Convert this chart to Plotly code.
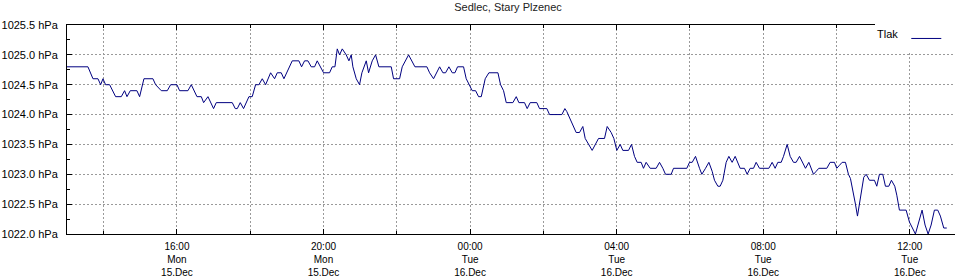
import pandas as pd
import plotly.graph_objects as go

# Station / series
title_text = "Sedlec, Stary Plzenec"
series_name = "Tlak"
start_time = "2025-12-15 13:00"

# minutes after 13:00 Mon 15.Dec
minutes = [
    0, 34.3, 42.5, 50.7, 55.1, 58.9, 63.2, 69.8, 79.6, 88.9, 94.3, 98.2, 103.6, 114.5,
    118.9, 126, 140.7, 145.1, 154.4, 164.2, 169.7, 180, 184.4, 198, 203.5, 212.8, 219.9,
    223.7, 230.8, 240, 244.4,
    270.6, 275.5, 278.8, 283.7, 289.1, 297.9, 303.3, 308.8, 314.2, 319.7, 325.2, 333.4,
    339.9, 344.3, 350.8, 355.2, 368.8, 379.7, 384.1, 389.0, 394.5, 399.9, 405.4, 409.7,
    420.1, 429.9, 434.3, 438.7, 442.5, 446.3, 450.7, 457.2, 461.6, 465.4, 468.1, 473.6,
    479.0, 482.9, 490.0,
    493.8, 496.5, 499.8, 505.3, 510.7, 530.9, 534.7, 544.6, 548.9, 559.3, 569.7, 589.3,
    593.7, 600.2, 610.1, 615.5, 619.9, 625.3, 630.8, 635.2, 639.5, 649.3, 653.7, 663.5,
    669.0, 673.9, 678.3, 684.8, 690.8, 705.6, 709.9, 714.8, 719.2, 730.1, 735.6,
    739.9, 749.1, 753.5, 758.4, 769.3, 773.7, 785.7, 790.1, 810.3, 815.2, 818.4, 825.5,
    833.7, 839.2, 844.6, 848.5, 859.9, 870.3, 880.1, 884.5, 891.0, 895.4, 900.3, 905.8,
    910.1, 919.4, 924.3, 929.2, 933.6, 940.1, 943.9, 948.3, 954.9, 964.7, 970.2, 975.6,
    980.0,
    989.3, 993.1, 1014.9, 1019.3, 1023.7, 1029.1, 1035.7, 1039.5, 1045.5, 1051.0, 1056.4,
    1060.2, 1065.7, 1069.5, 1073.9, 1079.3, 1083.7, 1089.1, 1094.1, 1102.2, 1109.3,
    1113.7, 1118.6, 1124.1, 1128.4, 1133.9, 1149.2, 1154.6, 1159.5, 1163.9, 1169.4,
    1173.2, 1179.2, 1184.1, 1189.6, 1193.9, 1199.4, 1204.8, 1209.2, 1214.7, 1222.3,
    1226.7,
    1231.0, 1244.1, 1249.5, 1256.6, 1260.4, 1264.8, 1269.2, 1274.6, 1279.5, 1282.8,
    1287.7, 1291.0, 1294.3, 1297.5, 1301.4, 1304.6, 1308.5, 1313.9, 1322.1, 1325.9,
    1330.3, 1335.7, 1340.1, 1345.6, 1349.9, 1355.4, 1358.7, 1363.0, 1374.0, 1379.4,
    1389.2, 1393.0, 1400.1, 1405.0, 1410.0, 1414.9, 1420.3, 1425.8, 1430.1, 1435.6,
    1440.5,
]

pressure_hpa = [
    1024.8, 1024.8, 1024.6, 1024.6, 1024.5, 1024.6, 1024.5, 1024.5, 1024.3, 1024.3, 1024.4,
    1024.3, 1024.4, 1024.4, 1024.3, 1024.6, 1024.6, 1024.5, 1024.4, 1024.4, 1024.5, 1024.5,
    1024.4, 1024.4, 1024.5, 1024.3, 1024.3, 1024.2, 1024.3, 1024.1, 1024.2,
    1024.2, 1024.1, 1024.1, 1024.2, 1024.1, 1024.3, 1024.3, 1024.5, 1024.5, 1024.6, 1024.5,
    1024.7, 1024.6, 1024.7, 1024.7, 1024.6, 1024.9, 1024.9, 1024.8, 1024.9, 1024.9, 1024.8,
    1024.8, 1024.9, 1024.7, 1024.7, 1024.8, 1024.8, 1025.1, 1025.0, 1025.1, 1025.0, 1024.9,
    1025.0, 1024.8, 1024.6, 1024.5, 1024.7, 1024.9,
    1024.7, 1024.8, 1024.9, 1025.0, 1024.8, 1024.8, 1024.6, 1024.6, 1024.8, 1025.0, 1024.8,
    1024.8, 1024.7, 1024.6, 1024.8, 1024.7, 1024.7, 1024.8, 1024.7, 1024.7, 1024.8, 1024.8,
    1024.6, 1024.4, 1024.4, 1024.3, 1024.3, 1024.6, 1024.7, 1024.7, 1024.5, 1024.4, 1024.2,
    1024.2, 1024.3,
    1024.2, 1024.2, 1024.1, 1024.2, 1024.2, 1024.1, 1024.1, 1024.0, 1024.0, 1024.1, 1024.05,
    1023.9, 1023.7, 1023.7, 1023.8, 1023.6, 1023.4, 1023.6, 1023.6, 1023.8, 1023.7, 1023.6,
    1023.4, 1023.5, 1023.4, 1023.4, 1023.5, 1023.3, 1023.2, 1023.2, 1023.1, 1023.2, 1023.1,
    1023.1, 1023.2, 1023.1, 1023.0,
    1023.0, 1023.1, 1023.1, 1023.2, 1023.2, 1023.3, 1023.1, 1023.0, 1023.1, 1023.2, 1023.05,
    1022.9, 1022.8, 1022.8, 1022.9, 1023.2, 1023.3, 1023.2, 1023.3, 1023.1, 1023.1, 1023.0,
    1023.1, 1023.1, 1023.2, 1023.1, 1023.1, 1023.2, 1023.1, 1023.2, 1023.2, 1023.3, 1023.5,
    1023.3, 1023.2, 1023.2, 1023.3, 1023.2, 1023.1, 1023.2, 1023.0, 1023.05,
    1023.1, 1023.1, 1023.2, 1023.2, 1023.1, 1023.15, 1023.2, 1023.2, 1023.0, 1022.93,
    1022.7, 1022.5, 1022.3, 1022.5, 1022.75, 1022.95, 1023.0, 1022.9, 1022.9, 1022.8,
    1023.0, 1023.0, 1022.8, 1022.8, 1022.9, 1022.8, 1022.65, 1022.4, 1022.4, 1022.2,
    1022.0, 1022.15, 1022.4, 1022.15, 1022.0, 1022.15, 1022.4, 1022.4, 1022.3, 1022.1,
    1022.1,
]

x_range = ["2025-12-15 13:00", "2025-12-16 13:14"]
y_range = [1022.0, 1025.5]

times = pd.Timestamp(start_time) + pd.to_timedelta(minutes, unit="min")

FONT = "Liberation Sans"

fig = go.Figure()
fig.add_trace(go.Scatter(
    x=times, y=pressure_hpa, mode="lines", name=" ",
    line=dict(color="#000080", width=1),
    showlegend=True,
))

fig.update_layout(
    width=956, height=277,
    margin=dict(l=67, r=1, t=25, b=43, autoexpand=False),
    paper_bgcolor="white", plot_bgcolor="white",
    font=dict(family=FONT, size=11, color="#000000"),
    title=dict(text=title_text, x=508 / 956, xanchor="center", xref="container",
               y=1 - 7 / 277, yanchor="middle", yref="container",
               font=dict(family=FONT, size=11, color="#222222")),
    legend=dict(x=1.0, xanchor="right", y=1.005, yanchor="top",
                bgcolor="white", borderwidth=0,
                title=dict(text=series_name, side="left", font=dict(size=11)),
                font=dict(size=11), itemwidth=30, tracegroupgap=0),
    showlegend=True,
)

fig.update_xaxes(
    type="date", range=x_range, automargin=False,
    tick0="2025-12-15 00:00", dtick=4 * 3600 * 1000,
    tickformat="%H:%M<br>%a<br>%d.%b",
    ticks="inside", ticklen=5, tickwidth=1, tickcolor="black",
    showline=True, linecolor="black", linewidth=1, mirror="ticks",
    showgrid=True, gridcolor="#9a9a9a", griddash="2px,2px", gridwidth=1,
    minor=dict(dtick=2 * 3600 * 1000, tick0="2025-12-15 00:00", ticks="inside",
               ticklen=3, tickcolor="black", showgrid=True, gridcolor="#9a9a9a",
               griddash="2px,2px"),
    zeroline=False, ticklabelstandoff=3,
    tickfont=dict(family=FONT, size=10),
)

fig.update_yaxes(
    range=y_range, dtick=0.5, tick0=1022.0, automargin=False,
    tickformat=".1f", ticksuffix=" hPa",
    ticks="inside", ticklen=5, tickwidth=1, tickcolor="black",
    showline=True, linecolor="black", linewidth=1,
    showgrid=True, gridcolor="#9a9a9a", griddash="2px,2px", gridwidth=1,
    minor=dict(dtick=0.25, ticks="inside", ticklen=3, tickcolor="black", showgrid=False),
    zeroline=False, ticklabelstandoff=6,
    tickfont=dict(family=FONT, size=11),
)

fig.write_html("out.html")
